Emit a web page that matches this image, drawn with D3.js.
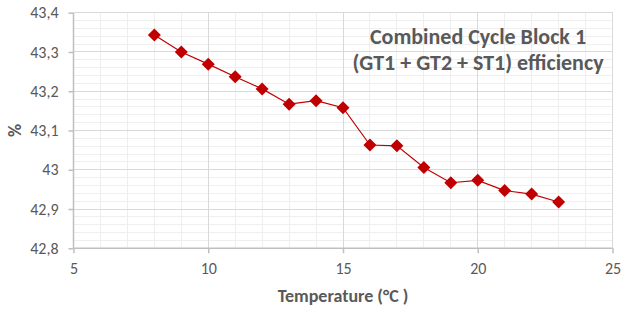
<!DOCTYPE html>
<html>
<head>
<meta charset="utf-8">
<script src="https://cdn.jsdelivr.net/npm/d3@7"></script>
<style>
  body { margin: 0; background: #fff; }
  text { font-family: Carlito, Lato, "Open Sans", sans-serif; fill: #595959; }
</style>
</head>
<body>
<svg id="chart" width="621" height="310"></svg>
<script>
// data
var temperature = [8, 9, 10, 11, 12, 13, 14, 15, 16, 17, 18, 19, 20, 21, 22, 23];
var efficiency = [43.343, 43.300, 43.269, 43.237, 43.206, 43.167, 43.176, 43.158,
                  43.063, 43.061, 43.006, 42.967, 42.973, 42.947, 42.938, 42.918];
var xTicks = [5, 10, 15, 20, 25];
var yTicks = [42.8, 42.9, 43, 43.1, 43.2, 43.3, 43.4];
var titleLines = ["Combined Cycle Block 1", "(GT1 + GT2 + ST1) efficiency"];

var margin = {top: 12.7, right: 8.5, bottom: 61.7, left: 73.5};
var width = 621, height = 310;

var svg = d3.select("#chart");

var x = d3.scaleLinear().domain([5, 25]).range([margin.left, width - margin.right]);
var y = d3.scaleLinear().domain([42.8, 43.4]).range([height - margin.bottom, margin.top]);

var fmt = function(d) { return d3.format("")(+d.toFixed(1)).replace(".", ","); };

// minor grid
var g = svg.append("g").style("shape-rendering", "crispEdges");
g.selectAll(".vminor").data(d3.range(5, 25.01, 1))
  .enter().append("line")
  .attr("x1", x).attr("x2", x)
  .attr("y1", y(42.8)).attr("y2", y(43.4))
  .attr("stroke", "#efefef");
g.selectAll(".hminor").data(d3.range(0, 31).map(function(i) { return 42.8 + i * 0.02; }))
  .enter().append("line")
  .attr("x1", x(5)).attr("x2", x(25))
  .attr("y1", y).attr("y2", y)
  .attr("stroke", "#efefef");

// major grid
g.selectAll(".vmajor").data(xTicks)
  .enter().append("line")
  .attr("x1", x).attr("x2", x)
  .attr("y1", y(42.8)).attr("y2", y(43.4))
  .attr("stroke", "#d9d9d9");
g.selectAll(".hmajor").data(yTicks)
  .enter().append("line")
  .attr("x1", x(5)).attr("x2", x(25))
  .attr("y1", y).attr("y2", y)
  .attr("stroke", "#d9d9d9");

// axes
var xAxis = d3.axisBottom(x).tickValues(xTicks).tickSize(5).tickPadding(9).tickFormat(d3.format("d"));
var yAxis = d3.axisLeft(y).tickValues(yTicks).tickSize(5).tickPadding(10).tickFormat(fmt);

var gx = svg.append("g").attr("transform", "translate(0," + y(42.8) + ")").call(xAxis);
var gy = svg.append("g").attr("transform", "translate(" + x(5) + ",0)").call(yAxis);
[gx, gy].forEach(function(a) {
  a.selectAll("path, line").attr("stroke", "#bfbfbf").attr("stroke-width", 1.5);
  a.selectAll("text").style("font-size", "16px").style("fill", "#595959").attr("font-family", null);
});
gx.select("path").attr("d", "M" + x(5) + ",0H" + x(25));
gy.select("path").attr("d", "M0," + y(42.8) + "V" + y(43.4));

// line + markers
var pts = temperature.map(function(t, i) { return [t, efficiency[i]]; });
svg.append("path")
  .datum(pts)
  .attr("fill", "none")
  .attr("stroke", "#c00000")
  .attr("stroke-width", 1.2)
  .attr("d", d3.line().x(function(d) { return x(d[0]); }).y(function(d) { return y(d[1]); }));

svg.selectAll(".marker").data(pts)
  .enter().append("path")
  .attr("transform", function(d) { return "translate(" + x(d[0]) + "," + y(d[1]) + ")"; })
  .attr("d", "M0,-6.5L6.5,0L0,6.5L-6.5,0Z")
  .attr("fill", "#c00000");

// title
svg.append("text")
  .attr("x", 478).attr("y", 44)
  .attr("text-anchor", "middle")
  .style("font-size", "22px").style("font-weight", "bold")
  .selectAll("tspan").data(titleLines)
  .enter().append("tspan")
  .attr("x", 478)
  .attr("dy", function(d, i) { return i ? 26 : 0; })
  .text(function(d) { return d; });

// axis titles
svg.append("text")
  .attr("x", x(15)).attr("y", 302)
  .attr("text-anchor", "middle")
  .style("font-size", "18px").style("font-weight", "bold")
  .text("Temperature (°C )");

svg.append("text")
  .attr("transform", "translate(21," + y(43.1) + ") rotate(-90)")
  .attr("text-anchor", "middle")
  .style("font-size", "18px").style("font-weight", "bold")
  .text("%");
</script>
</body>
</html>
